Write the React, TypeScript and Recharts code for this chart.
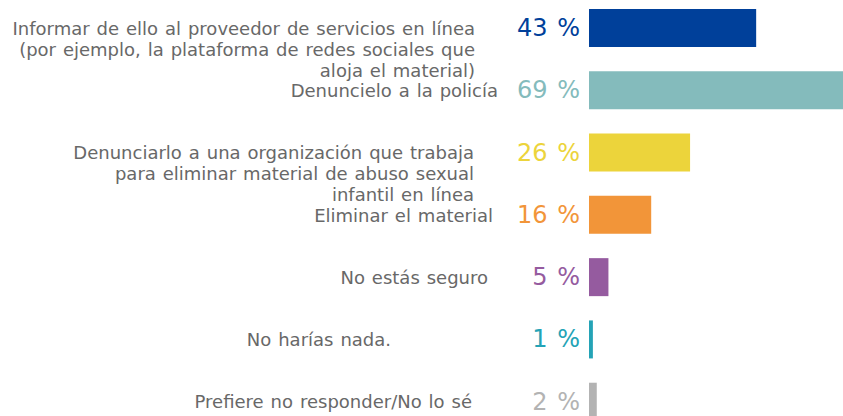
import { Bar, BarChart, Cell, LabelList, XAxis, YAxis } from "recharts";

const categories = [
  "Informar de ello al proveedor de servicios en línea\n(por ejemplo, la plataforma de redes sociales que\naloja el material)",
  "Denuncielo a la policía",
  "Denunciarlo a una organización que trabaja\npara eliminar material de abuso sexual\ninfantil en línea",
  "Eliminar el material",
  "No estás seguro",
  "No harías nada.",
  "Prefiere no responder/No lo sé",
];
const values = [43, 69, 26, 16, 5, 1, 2];
const colors = ["#00409a", "#84bbbc", "#ecd43b", "#f29539", "#955b9f", "#24a3b6", "#b3b3b3"];

// distance from the bars to the right edge of each category label
const labelGap = [114, 91, 115, 96, 101, 198, 117];

const data = categories.map((label, i) => ({ label, value: values[i] }));

const FONT = "'DejaVu Sans', Verdana, sans-serif";

function CategoryTick(props: any) {
  const { x, y, payload, index } = props;
  const lines = String(payload.value).split("\n");
  const i = payload.index ?? index ?? 0;
  return (
    <text
      x={x - labelGap[i]}
      y={y}
      textAnchor="end"
      fill="#686868"
      fontSize={18}
      fontFamily={FONT}
      style={{ wordSpacing: 1.2 }}
    >
      {lines.map((line, k) => (
        <tspan key={k} x={x - labelGap[i]} y={y + k * 21} dominantBaseline="central">
          {line}
        </tspan>
      ))}
    </text>
  );
}

function PercentLabel(props: any) {
  const { x, y, height, value, index } = props;
  return (
    <text
      x={x - 9}
      y={y + height / 2}
      textAnchor="end"
      dominantBaseline="central"
      fill={colors[index]}
      fontSize={24}
      fontFamily={FONT}
      style={{ wordSpacing: 2 }}
    >
      {value} %
    </text>
  );
}

export default function App() {
  return (
    <div
      style={{
        position: "absolute",
        left: 0,
        top: 0,
        width: 843,
        height: 416,
        overflow: "hidden",
        background: "#ffffff",
      }}
    >
      <BarChart
        width={900}
        height={433}
        data={data}
        layout="vertical"
        margin={{ top: -3, right: 0, bottom: 0, left: 0 }}
      >
        <XAxis type="number" domain={[0, 80]} hide />
        <YAxis
          type="category"
          dataKey="label"
          width={589}
          interval={0}
          axisLine={false}
          tickLine={false}
          tickSize={0}
          tickMargin={0}
          tick={<CategoryTick />}
        />
        <Bar dataKey="value" barSize={38} isAnimationActive={false}>
          {data.map((_, i) => (
            <Cell key={i} fill={colors[i]} />
          ))}
          <LabelList dataKey="value" content={<PercentLabel />} />
        </Bar>
      </BarChart>
    </div>
  );
}
